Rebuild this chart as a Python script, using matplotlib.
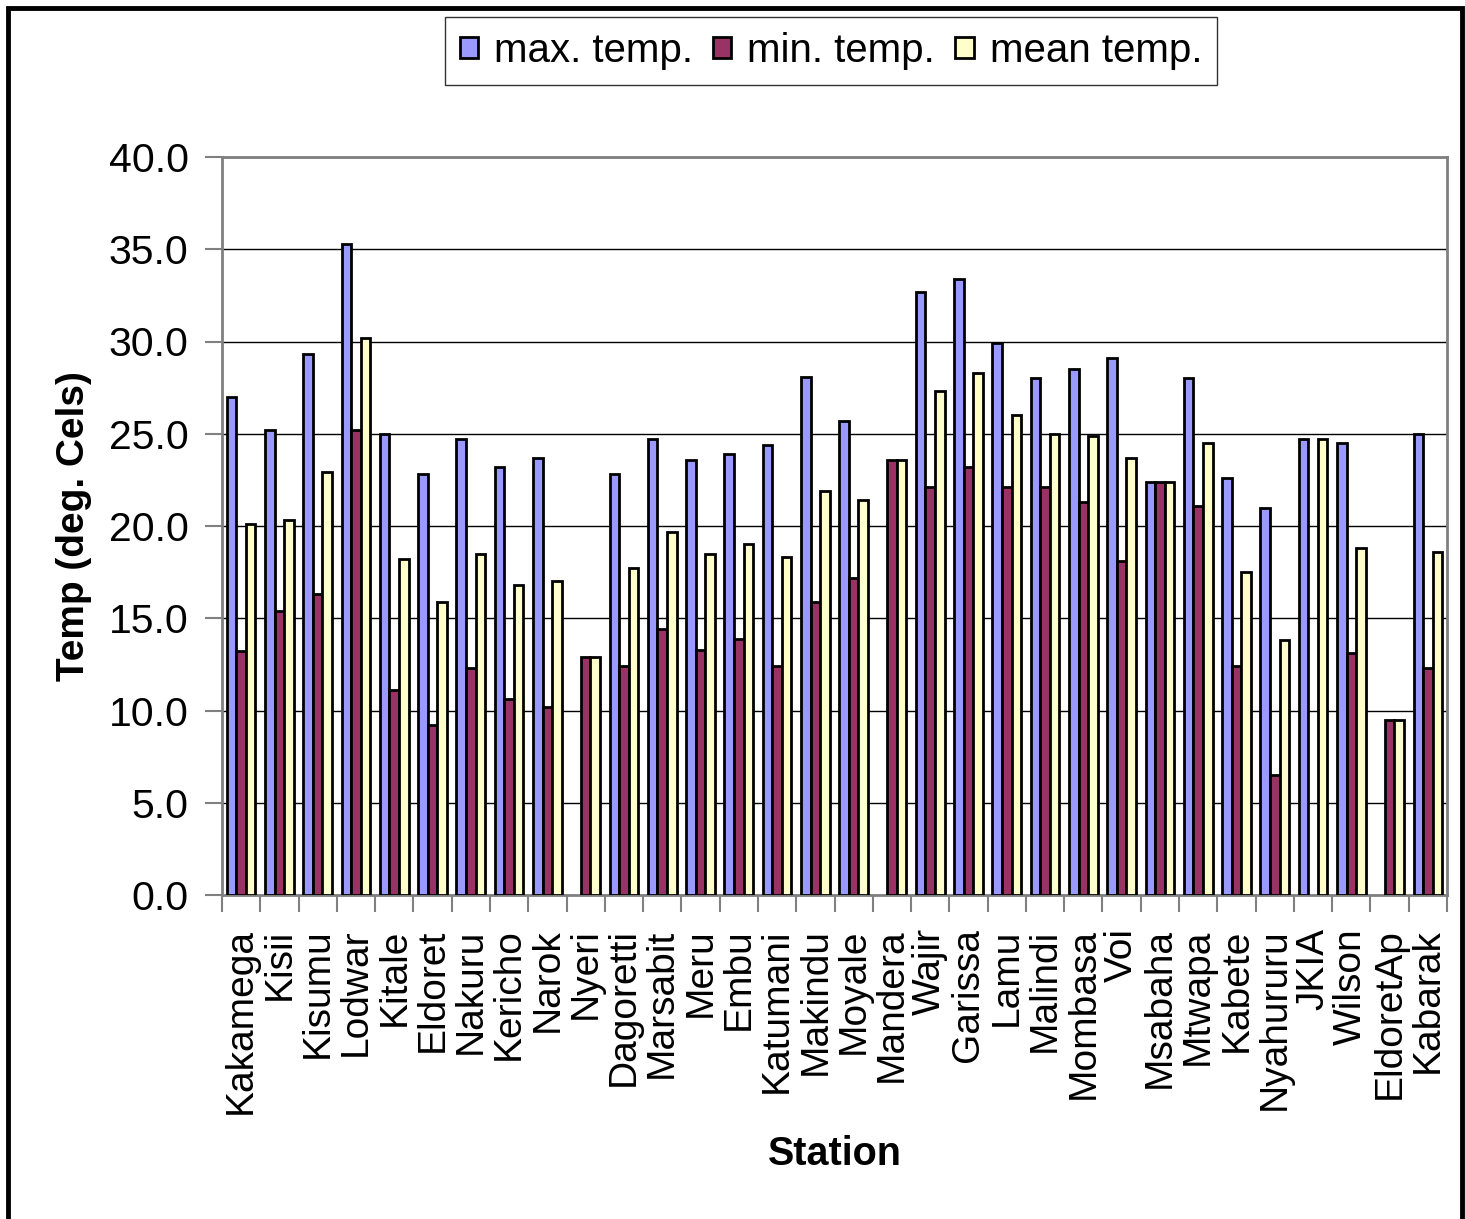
import numpy as np
import matplotlib
matplotlib.use('Agg')
import matplotlib.pyplot as plt
from matplotlib.patches import Rectangle

plt.rcParams['font.family'] = ['Liberation Sans', 'DejaVu Sans']

# station order as on the chart
stations = ['Kakamega', 'Kisii', 'Kisumu', 'Lodwar', 'Kitale', 'Eldoret', 'Nakuru',
            'Kericho', 'Narok', 'Nyeri', 'Dagoretti', 'Marsabit', 'Meru', 'Embu',
            'Katumani', 'Makindu', 'Moyale', 'Mandera', 'Wajir', 'Garissa', 'Lamu',
            'Malindi', 'Mombasa', 'Voi', 'Msabaha', 'Mtwapa', 'Kabete', 'Nyahururu',
            'JKIA', 'Wilson', 'EldoretAp', 'Kabarak']

nan = np.nan
max_temp = [27.0, 25.2, 29.3, 35.3, 25.0, 22.8, 24.7, 23.2, 23.7, nan, 22.8, 24.7,
            23.6, 23.9, 24.4, 28.1, 25.7, nan, 32.7, 33.4, 29.9, 28.0, 28.5, 29.1,
            22.4, 28.0, 22.6, 21.0, 24.7, 24.5, nan, 25.0]
min_temp = [13.2, 15.4, 16.3, 25.2, 11.1, 9.2, 12.3, 10.6, 10.2, 12.9, 12.4, 14.4,
            13.3, 13.9, 12.4, 15.9, 17.2, 23.6, 22.1, 23.2, 22.1, 22.1, 21.3, 18.1,
            22.4, 21.1, 12.4, 6.5, nan, 13.1, 9.5, 12.3]
mean_temp = [20.1, 20.3, 22.9, 30.2, 18.2, 15.9, 18.5, 16.8, 17.0, 12.9, 17.7, 19.7,
             18.5, 19.0, 18.3, 21.9, 21.4, 23.6, 27.3, 28.3, 26.0, 25.0, 24.9, 23.7,
             22.4, 24.5, 17.5, 13.8, 24.7, 18.8, 9.5, 18.6]

fig = plt.figure(figsize=(14.65, 12.19), dpi=100)
ax = fig.add_axes([222 / 1465, 1 - 895 / 1219, 1225 / 1465, 738 / 1219])

x = np.arange(len(stations))
w = 0.25
ax.bar(x - w, max_temp, w, color='#9999FF', edgecolor='black', linewidth=2,
       label='max. temp.', zorder=3)
ax.bar(x, min_temp, w, color='#993366', edgecolor='black', linewidth=2,
       label='min. temp.', zorder=3)
ax.bar(x + w, mean_temp, w, color='#FFFFCC', edgecolor='black', linewidth=2,
       label='mean temp.', zorder=3)

ax.set_xlim(-0.5, len(stations) - 0.5)
ax.set_ylim(0, 40)
ax.set_yticks(np.arange(0, 41, 5))
ax.set_yticklabels(['%.1f' % v for v in np.arange(0, 41, 5)], fontsize=29.5)
ax.yaxis.grid(True, color='black', linewidth=1, zorder=0)

# ticks between groups, labels at group centres
ax.set_xticks(np.arange(-0.5, len(stations), 1))
ax.set_xticklabels([])
ax.set_xticks(x, minor=True)
ax.set_xticklabels(stations, minor=True, rotation=90, fontsize=28)
ax.tick_params(axis='x', which='major', length=12, width=1.5, color='#808080')
ax.tick_params(axis='x', which='minor', length=0, pad=24)
ax.tick_params(axis='y', length=12, width=1.5, color='#808080', pad=12)

for s in ax.spines.values():
    s.set_color('#808080')
    s.set_linewidth(2)

ax.set_ylabel('Temp (deg. Cels)', fontsize=28, fontweight='bold')
ax.yaxis.set_label_coords(-0.106, 0.5)
ax.set_xlabel('Station', fontsize=28.5, fontweight='bold')
ax.xaxis.set_label_coords(0.5, -0.325)

leg = fig.legend(loc='center', bbox_to_anchor=(831 / 1465, 1 - 51 / 1219), ncol=3,
                 fontsize=29, frameon=True, fancybox=False, edgecolor='black',
                 handlelength=0.45, handleheight=0.45, handletextpad=0.4,
                 columnspacing=0.5, borderpad=0.38, borderaxespad=0)
leg.get_frame().set_linewidth(1)

# outer chart border
fig.patches.append(Rectangle((8 / 1465, -0.01), 1454 / 1465, 1 - 8 / 1219 + 0.01,
                             transform=fig.transFigure, fill=False,
                             edgecolor='black', linewidth=3.5))

fig.savefig('out.png', dpi=100)
